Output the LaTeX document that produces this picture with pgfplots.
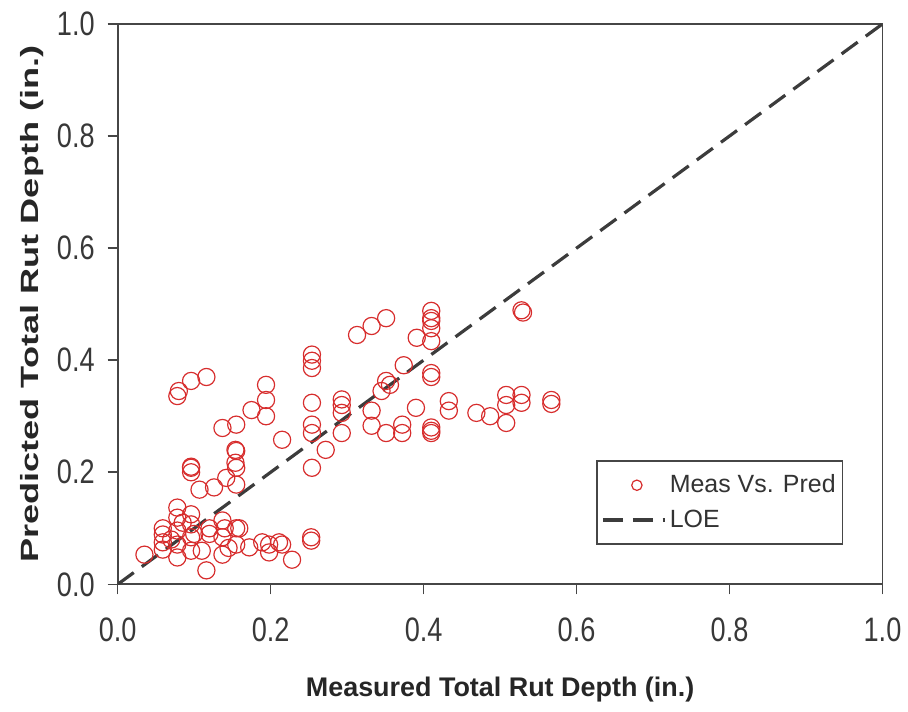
\documentclass[border=0pt]{standalone}
\usepackage{pgfplots}
\pgfplotsset{compat=1.18}
\usepackage{graphicx}
\usepackage{fontspec}
\setmainfont{Liberation Sans}
\definecolor{meas}{RGB}{215,45,45}
\definecolor{loe}{RGB}{60,60,60}
\definecolor{axgray}{RGB}{70,70,70}
\begin{document}
\begin{tikzpicture}
\begin{axis}[
    width=383.5pt, height=281pt,
    scale only axis,
    xmin=0, xmax=1, ymin=0, ymax=1,
    xtick={0,0.2,...,1}, ytick={0,0.2,...,1},
    tick align=outside,
    xtick pos=bottom, ytick pos=left,
    major tick length=5pt,
    axis line style={axgray, line width=0.9pt},
    every tick/.style={axgray, line width=0.8pt},
    /pgf/number format/assume math mode=true,
    /pgf/number format/.cd, fixed, fixed zerofill, precision=1, /pgfplots/.cd,
    xticklabel={\scalebox{0.8}[1]{\pgfmathprintnumber{\tick}}},
    yticklabel={\scalebox{0.8}[1]{\pgfmathprintnumber{\tick}}},
    tick label style={font=\fontsize{17}{19}\selectfont, text=black!78},
    xticklabel style={yshift=-8pt},
    yticklabel style={xshift=-3pt},
    xlabel={\textbf{Measured Total Rut Depth (in.)}},
    ylabel={\scalebox{1.45}[1]{\textbf{Predicted Total Rut Depth (in.)}}},
    label style={font=\fontsize{12.5}{14}\selectfont, text=black!85},
    xlabel style={at={(axis description cs:0.5,-0.187)}, anchor=center,
      font=\fontsize{13.5}{15}\selectfont},
    ylabel style={at={(axis description cs:-0.112,0.5)}, anchor=center},
    legend style={at={(rel axis cs:0.626,0.222)}, anchor=north west,
      draw=axgray, line width=0.8pt, font=\fontsize{12.5}{15}\selectfont,
      text=black!80, row sep=3pt, inner xsep=2pt, inner ysep=5pt,
      nodes={inner xsep=1.5pt}, cells={anchor=west}},
    legend cell align=left,
]
\addplot[only marks, mark=o, mark size=4.3pt, meas, mark options={line width=0.6pt},
  legend image code/.code={\draw[meas, line width=0.6pt] (0.6cm,0cm) circle (2.6pt);}]
coordinates {
(0.035,0.053) (0.059,0.100) (0.059,0.089) (0.059,0.075) (0.059,0.062)
(0.078,0.137) (0.078,0.119) (0.078,0.096) (0.078,0.071) (0.078,0.048)
(0.096,0.208) (0.096,0.200) (0.096,0.125) (0.096,0.107) (0.096,0.084)
(0.096,0.060) (0.107,0.169) (0.116,0.025) (0.120,0.100) (0.126,0.173)
(0.137,0.114) (0.137,0.084) (0.137,0.053) (0.142,0.190) (0.155,0.238)
(0.155,0.208) (0.155,0.178) (0.155,0.100) (0.155,0.071) (0.159,0.100)
(0.172,0.066) (0.189,0.075) (0.198,0.071) (0.198,0.057) (0.211,0.075)
(0.215,0.071) (0.228,0.044) (0.253,0.084) (0.253,0.078)
(0.070,0.080) (0.085,0.110) (0.110,0.060) (0.120,0.090) (0.140,0.100)
(0.145,0.065) (0.100,0.090)
(0.078,0.336) (0.080,0.345) (0.096,0.363) (0.116,0.370)
(0.137,0.279) (0.155,0.285) (0.175,0.311) (0.194,0.356) (0.194,0.329)
(0.194,0.300) (0.215,0.258) (0.154,0.240) (0.154,0.217) (0.096,0.210)
(0.254,0.399) (0.254,0.410) (0.254,0.386) (0.254,0.324) (0.254,0.285)
(0.254,0.270) (0.254,0.208) (0.272,0.240) (0.293,0.320) (0.293,0.306)
(0.293,0.270) (0.293,0.330) (0.313,0.445) (0.332,0.461) (0.351,0.475)
(0.332,0.310) (0.332,0.283) (0.351,0.270) (0.351,0.363) (0.356,0.356)
(0.345,0.345) (0.374,0.391) (0.372,0.270) (0.390,0.315) (0.391,0.440)
(0.372,0.285)
(0.410,0.488) (0.410,0.475) (0.410,0.470) (0.410,0.457) (0.410,0.434)
(0.410,0.377) (0.410,0.370) (0.410,0.280) (0.410,0.274) (0.410,0.270)
(0.433,0.327) (0.433,0.310) (0.469,0.306) (0.487,0.300) (0.508,0.338)
(0.508,0.320) (0.508,0.288) (0.528,0.338) (0.528,0.324) (0.567,0.329)
(0.567,0.322) (0.528,0.489) (0.530,0.485)
};
\addlegendentry{Meas Vs. Pred}
\addplot[loe, line width=1.6pt, dash pattern=on 10pt off 5pt,
  legend image code/.code={\draw[loe, line width=1.6pt, dash pattern=on 10pt off 5pt] (0cm,0cm) -- (1.1cm,0cm);}]
coordinates {(0,0) (1,1)};
\addlegendentry{LOE}
\end{axis}
\path ([yshift=12pt]current axis.north) ([yshift=-64pt]current axis.south)
      ([xshift=-59pt]current axis.west);
\end{tikzpicture}
\end{document}
